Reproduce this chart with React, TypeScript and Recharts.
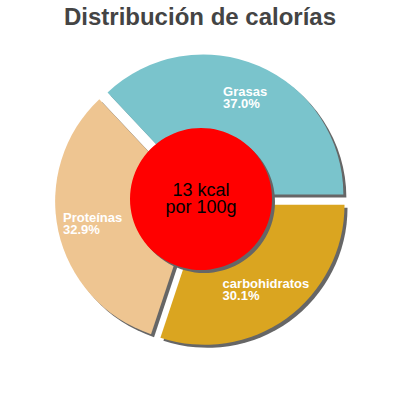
import { PieChart, Pie, Cell } from "recharts";

const sliceNames = ["Grasas", "Proteínas", "carbohidratos"];
const slicePercents = [37.0, 32.9, 30.1];
const sliceColors = ["#7AC4CC", "#EEC591", "#DAA520"];
const centerLines = ["13 kcal", "por 100g"];
const title = "Distribución de calorías";

const FONT = '"Liberation Sans", Arial, sans-serif';
const CX = 201;
const CY = 200;
const R = 140;
const HOLE_R = 71;
const EXPLODE = 6;
const SHADOW = 3;
const RAD = Math.PI / 180;

const data = sliceNames.map((name, i) => ({ name, value: slicePercents[i] }));
const total = slicePercents.reduce((a, b) => a + b, 0);

function midAngle(k: number) {
  let before = 0;
  for (let i = 0; i < k; i++) before += slicePercents[i];
  return ((before + slicePercents[k] / 2) / total) * 360;
}

function explodeOffset(k: number) {
  const a = midAngle(k) * RAD;
  return [EXPLODE * Math.cos(a), -EXPLODE * Math.sin(a)];
}

let ctx: CanvasRenderingContext2D | null = null;
function textWidth(s: string, font: string) {
  if (!ctx) ctx = document.createElement("canvas").getContext("2d");
  if (!ctx) return s.length * 7;
  ctx.font = font;
  return ctx.measureText(s).width;
}

const makeLabel = (k: number) => (props: any) => {
  if (props.index !== k) return null;
  const a = props.midAngle * RAD;
  const rr = R * 0.75;
  const px = props.cx + rr * Math.cos(a);
  const py = props.cy - rr * Math.sin(a);
  const line1 = sliceNames[k];
  const line2 = `${slicePercents[k].toFixed(1)}%`;
  const font = `bold 13px ${FONT}`;
  const w = Math.max(textWidth(line1, font), textWidth(line2, font));
  const left = px - w / 2;
  return (
    <text fill="#fff" fontFamily={FONT} fontSize={13} fontWeight="bold">
      <tspan x={left} y={py - 2}>{line1}</tspan>
      <tspan x={left} y={py + 10}>{line2}</tspan>
    </text>
  );
};

const centerLabel = (props: any) => (
  <text
    x={props.cx}
    y={props.cy}
    fill="#000"
    fontFamily={FONT}
    fontSize={18}
    textAnchor="middle"
  >
    <tspan x={props.cx} y={props.cy - 3}>{centerLines[0]}</tspan>
    <tspan x={props.cx} y={props.cy + 14}>{centerLines[1]}</tspan>
  </text>
);

export default function App() {
  return (
    <div style={{ position: "absolute", left: 0, top: 0, width: 400, height: 400, background: "#fff" }}>
      <div
        style={{
          position: "absolute",
          left: 0,
          top: 5,
          width: 400,
          textAlign: "center",
          fontFamily: FONT,
          fontWeight: "bold",
          fontSize: 24,
          lineHeight: "24px",
          color: "#444",
        }}
      >
        {title}
      </div>
      <PieChart width={400} height={400} margin={{ top: 0, right: 0, bottom: 0, left: 0 }}>
        {data.map((_, k) => {
          const [dx, dy] = explodeOffset(k);
          return (
            <Pie
              key={`shadow-${k}`}
              data={data}
              dataKey="value"
              cx={CX + dx + SHADOW}
              cy={CY + dy + SHADOW}
              outerRadius={R}
              startAngle={0}
              endAngle={360}
              stroke="none"
              isAnimationActive={false}
            >
              {data.map((d, i) => (
                <Cell key={d.name} fill={i === k ? "#666666" : "none"} />
              ))}
            </Pie>
          );
        })}
        {data.map((_, k) => {
          const [dx, dy] = explodeOffset(k);
          return (
            <Pie
              key={`slice-${k}`}
              data={data}
              dataKey="value"
              cx={CX + dx}
              cy={CY + dy}
              outerRadius={R}
              startAngle={0}
              endAngle={360}
              stroke="none"
              label={makeLabel(k)}
              labelLine={false}
              isAnimationActive={false}
            >
              {data.map((d, i) => (
                <Cell key={d.name} fill={i === k ? sliceColors[k] : "none"} />
              ))}
            </Pie>
          );
        })}
        <Pie
          data={[{ name: "hole", value: 1 }]}
          dataKey="value"
          cx={CX + SHADOW}
          cy={CY - 1 + SHADOW}
          outerRadius={HOLE_R}
          stroke="none"
          fill="#666666"
          isAnimationActive={false}
        />
        <Pie
          data={[{ name: "hole", value: 1 }]}
          dataKey="value"
          cx={CX}
          cy={CY - 1}
          outerRadius={HOLE_R}
          stroke="none"
          fill="#FF0000"
          label={centerLabel}
          labelLine={false}
          isAnimationActive={false}
        />
      </PieChart>
    </div>
  );
}
